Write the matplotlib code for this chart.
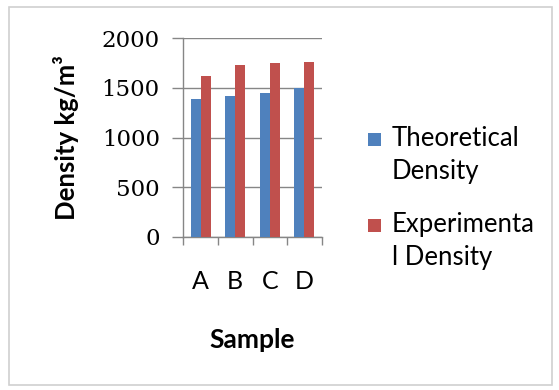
import matplotlib
matplotlib.use("Agg")
import matplotlib.pyplot as plt
from matplotlib.patches import Rectangle
import numpy as np

samples = ["A", "B", "C", "D"]
theoretical = [1385, 1418, 1450, 1500]
experimental = [1625, 1732, 1746, 1762]
series_labels = ["Theoretical\nDensity", "Experimenta\nl Density"]
yticks = [0, 500, 1000, 1500, 2000]

blue = "#4F81BD"
red = "#C0504D"
grid_c = "#868686"
W, H = 559, 390

fig = plt.figure(figsize=(W/100, H/100), dpi=100)
fig.patch.set_facecolor("white")
fig.add_artist(Rectangle((9/W, 1 - 385/H), (552-9)/W, (385-7)/H,
                         transform=fig.transFigure, fill=False,
                         edgecolor="#D0D0D0", linewidth=1.2))

ax = fig.add_axes([183.3/W, 1 - 236.7/H, (321.7-183.3)/W, (236.7-38.3)/H])
x = np.arange(len(samples))
w = 0.29
ax.bar(x - w/2, theoretical, w, color=blue, label=series_labels[0], zorder=3)
ax.bar(x + w/2, experimental, w, color=red, label=series_labels[1], zorder=3)

ax.set_xlim(-0.5, len(samples) - 0.5)
ax.set_ylim(0, 2000)
ax.set_yticks(yticks)
ax.set_yticklabels([str(v) for v in yticks], family="DejaVu Serif", fontsize=16.5)
ax.yaxis.grid(True, color=grid_c, linewidth=1.0, zorder=0)
ax.tick_params(axis="y", length=8, width=1, color=grid_c, pad=9)

ax.set_xticks(x)
ax.set_xticklabels(samples, family="Lato", fontsize=18)
ax.set_xticks(np.arange(len(samples) + 1) - 0.5, minor=True)
ax.tick_params(axis="x", which="major", length=0, pad=24)
ax.tick_params(axis="x", which="minor", length=6, width=1, color=grid_c)

for s in ["top", "right"]:
    ax.spines[s].set_visible(False)
for s in ["left", "bottom"]:
    ax.spines[s].set_color(grid_c)
    ax.spines[s].set_linewidth(1.0)

ax.set_ylabel("Density kg/m³", family="Lato", fontsize=18.5, fontweight="bold", labelpad=16)
ax.set_xlabel("Sample", family="Lato", fontsize=19, fontweight="bold", labelpad=25)

# legend drawn manually to match the original layout (handle aligned with first line)
colors = [blue, red]
sq = 13
for i, (lab, c) in enumerate(zip(series_labels, colors)):
    base = 146 + i * 86
    fig.add_artist(Rectangle((368/W, 1 - base/H), sq/W, sq/H,
                             transform=fig.transFigure, facecolor=c, edgecolor="none"))
    for j, line in enumerate(lab.split("\n")):
        fig.text(392/W, 1 - (base + j * 33)/H, line, family="Lato", fontsize=18.5,
                 ha="left", va="baseline", color="black")

fig.savefig("out.png", dpi=100)
